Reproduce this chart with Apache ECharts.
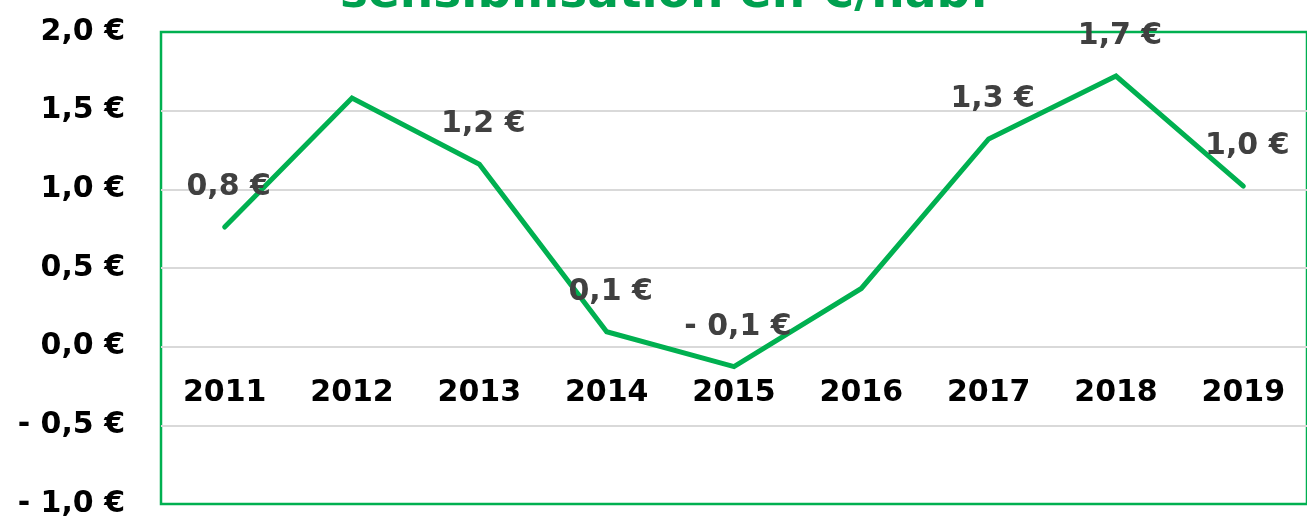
<!DOCTYPE html>
<html>
<head>
<meta charset="utf-8">
<script src="https://cdn.jsdelivr.net/npm/echarts@6/dist/echarts.min.js"></script>
<style>
html,body{margin:0;padding:0;background:#fff;}
#chart{width:1307px;height:518px;}
</style>
</head>
<body>
<div id="chart"></div>
<script>
const titleText = "sensibilisation en €/hab.";
const categories = ["2011","2012","2013","2014","2015","2016","2017","2018","2019"];
const values = [0.76, 1.58, 1.16, 0.095, -0.127, 0.37, 1.32, 1.72, 1.02];
const showLabel = [true, false, true, true, true, false, true, true, true];
const yTicks = { min: -1.0, max: 2.0, interval: 0.5 };

function fmtEuro(v) {
  const r = Math.round(v * 10) / 10;
  const s = Math.abs(r).toFixed(1).replace('.', ',') + ' €';
  return r < 0 ? '- ' + s : s;
}

const FONT = "'DejaVu Sans', sans-serif";
const chart = echarts.init(document.getElementById('chart'), null, { renderer: 'canvas' });
chart.setOption({
  animation: false,
  title: {
    text: titleText,
    left: 335,
    top: -34,
    textStyle: { color: '#00a04f', fontFamily: FONT, fontWeight: 'bold', fontSize: 47 }
  },
  grid: {
    left: 161, right: 0, top: 32, bottom: 14,
    outerBoundsMode: 'none',
    containLabel: false,
    show: true, borderColor: '#00b050', borderWidth: 2.5
  },
  xAxis: {
    type: 'category',
    data: categories,
    boundaryGap: true,
    position: 'bottom',
    offset: 0,
    axisLine: { show: false, onZero: false },
    axisTick: { show: false },
    axisLabel: { show: true, color: '#000', fontFamily: FONT, fontWeight: 'bold', fontSize: 30, margin: 32 },
    splitLine: { show: false }
  },
  yAxis: {
    type: 'value',
    min: yTicks.min, max: yTicks.max, interval: yTicks.interval,
    axisLine: { show: false },
    axisTick: { show: false },
    axisLabel: { color: '#000', fontFamily: FONT, fontWeight: 'bold', fontSize: 30, margin: 36, formatter: fmtEuro },
    splitLine: { show: true, showMinLine: false, showMaxLine: false, lineStyle: { color: '#d9d9d9', width: 2 } }
  },
  series: [{
    type: 'line',
    data: values.map((v, i) => ({ value: v, label: { show: showLabel[i] } })),
    showSymbol: true,
    symbol: 'circle',
    symbolSize: 1,
    lineStyle: { color: '#00b050', width: 5, cap: 'round', join: 'miter' },
    itemStyle: { color: 'rgba(0,0,0,0)', borderWidth: 0 },
    label: {
      show: true, position: 'top', distance: 24, offset: [4, 0],
      color: '#404040', fontFamily: FONT, fontWeight: 'bold', fontSize: 30,
      formatter: p => fmtEuro(p.value)
    },
    z: 3
  }]
});
// place the category labels just below the zero line, using the library's own scale
const zeroY = chart.convertToPixel({ yAxisIndex: 0 }, 0);
const bottomY = chart.convertToPixel({ yAxisIndex: 0 }, yTicks.min);
chart.setOption({ xAxis: { offset: -(bottomY - zeroY) } });
</script>
</body>
</html>
